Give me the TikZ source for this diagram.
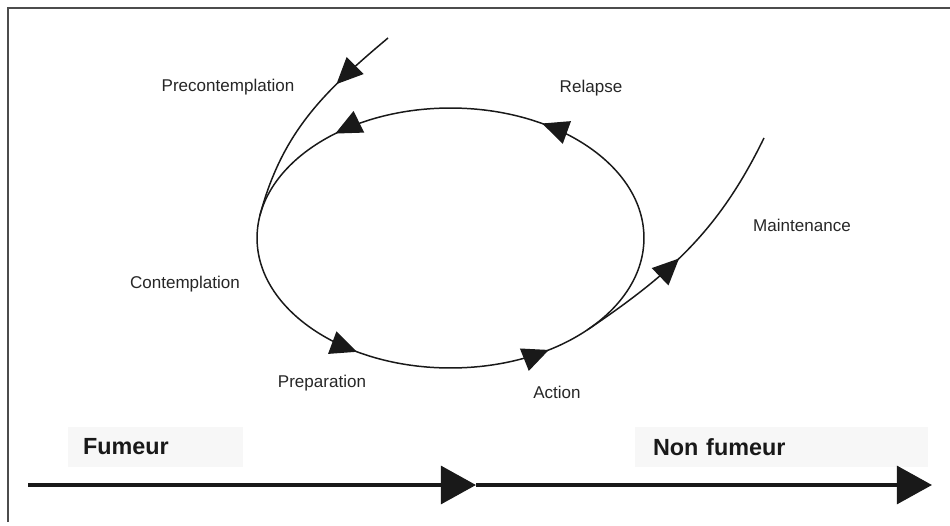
\documentclass[tikz,border=0pt]{standalone}
\usepackage{fontspec}
\setmainfont{Liberation Sans}
\usetikzlibrary{arrows.meta, decorations.markings}

\tikzset{flow/.tip={Triangle[length=15pt, width=13.5pt]}}

\begin{document}
\begin{tikzpicture}[x=0.02cm, y=0.02cm,
    stage/.style={font=\fontsize{9.7}{12}\selectfont, text=black!85},
    side/.style={fill=black!3, minimum height=0.8cm, inner xsep=0.3cm, align=left, font=\fontsize{13.3}{16}\selectfont\bfseries, text=black!90},
    loopline/.style={line width=0.85pt, draw=black!90},
    bigarrow/.style={line width=2.3pt, draw=black!90, -{Triangle[length=20pt, width=21.5pt]}}
]
\useasboundingbox (0,0) rectangle (950,525);

% frame
\draw[black!70, line width=0.8pt] (8,3) -- (8,517) -- (950,517);

% stages
\node[stage] (precon) at (228,438) {Precontemplation};
\node[stage] (relapse) at (591,437) {Relapse};
\node[stage] (maint) at (802,300) {Maintenance};
\node[stage] (contemp) at (185,241) {Contemplation};
\node[stage] (prep) at (322,142) {Preparation};
\node[stage] (action) at (557,133) {Action};

% the cycle
\coordinate (c) at (450.5,287);
\coordinate (pstart) at (388,487);
\coordinate (pjoin) at (259.9,309.6);
\coordinate (mjoin) at (587.3,195.1);
\coordinate (mend) at (764,387);

\draw[loopline, postaction={decorate}, decoration={markings,
    mark=at position 0.159 with {\arrow{flow}},
    mark=at position 0.366 with {\arrow{flow}},
    mark=at position 0.657 with {\arrow{flow}},
    mark=at position 0.848 with {\arrow{flow}}}]
    (c) ellipse [x radius=3.87cm, y radius=2.6cm];
\draw[loopline, postaction={decorate}, decoration={markings,
    mark=at position 0.31 with {\arrow{flow}}}]
    (pstart) to[out=220, in=75] (pjoin);
\draw[loopline, postaction={decorate}, decoration={markings,
    mark=at position 0.44 with {\arrow{flow}}}]
    (mjoin) to[out=34, in=244] (mend);

% smoker / non smoker
\node[side, text width=2.9cm] (smoker) at (155.5,78) {Fumeur};
\node[side, text width=5.14cm, inner xsep=0.36cm] (nonsmoker) at (781.5,78) {Non fumeur};

\coordinate (start) at (28,40);
\coordinate (mid) at (476,40);
\coordinate (end) at (932,40);
\draw[bigarrow] (start) -- (mid);
\draw[bigarrow] (mid) -- (end);

\end{tikzpicture}
\end{document}
